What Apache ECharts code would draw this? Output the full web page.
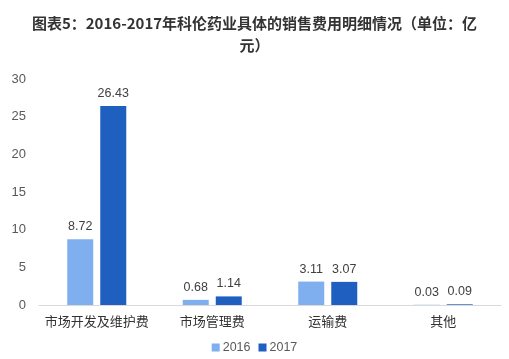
<!DOCTYPE html>
<html><head><meta charset="utf-8">
<script src="https://cdn.jsdelivr.net/npm/echarts@6/dist/echarts.min.js"></script>
<style>html,body{margin:0;padding:0;background:#fff}#c{width:509px;height:359px}</style>
</head><body><div id="c"></div>
<script>
const categories = ['市场开发及维护费', '市场管理费', '运输费', '其他'];
const values2016 = [8.72, 0.68, 3.11, 0.03];
const values2017 = [26.43, 1.14, 3.07, 0.09];
const yTicks = [0, 5, 10, 15, 20, 25, 30];

const chart = echarts.init(document.getElementById('c'));
const lbl = {show: true, position: 'top', distance: 6, color: '#404040', fontSize: 12.5, fontFamily: 'Liberation Sans, Arial, sans-serif', formatter: p => p.value.toFixed(2)};
chart.setOption({
  animation: false,
  title: {
    text: '图表5：2016-2017年科伦药业具体的销售费用明细情况（单位：亿\n元）',
    left: 'center', top: 7,
    textStyle: {fontSize: 15, fontWeight: 'bold', color: '#333', lineHeight: 22, fontFamily: 'Noto Sans CJK SC, sans-serif'}
  },
  legend: {
    bottom: 0, left: 'center', itemWidth: 8, itemHeight: 8, itemGap: 8, icon: 'rect',
    textStyle: {color: '#595959', fontSize: 12.5, padding: [0, 0, 0, -2], fontFamily: 'Liberation Sans, Arial, sans-serif'}
  },
  grid: {left: 39, right: 8, top: 79, bottom: 54},
  xAxis: {
    type: 'category', data: categories,
    axisLine: {lineStyle: {color: '#d9d9d9'}}, axisTick: {show: false},
    axisLabel: {interval: 0, color: '#333', fontSize: 13, margin: 10, fontFamily: 'Noto Sans CJK SC, sans-serif'}
  },
  yAxis: {
    type: 'value', min: yTicks[0], max: yTicks[yTicks.length - 1], interval: 5,
    splitLine: {show: false}, axisLine: {show: false}, axisTick: {show: false},
    axisLabel: {color: '#595959', fontSize: 13, margin: 13, fontFamily: 'Liberation Sans, Arial, sans-serif'}
  },
  series: [
    {name: '2016', type: 'bar', data: values2016, barWidth: 26, barGap: '27%', itemStyle: {color: '#7FAFEF'}, label: lbl},
    {name: '2017', type: 'bar', data: values2017, barWidth: 26, itemStyle: {color: '#1E5FBF'}, label: lbl}
  ]
});
</script></body></html>
